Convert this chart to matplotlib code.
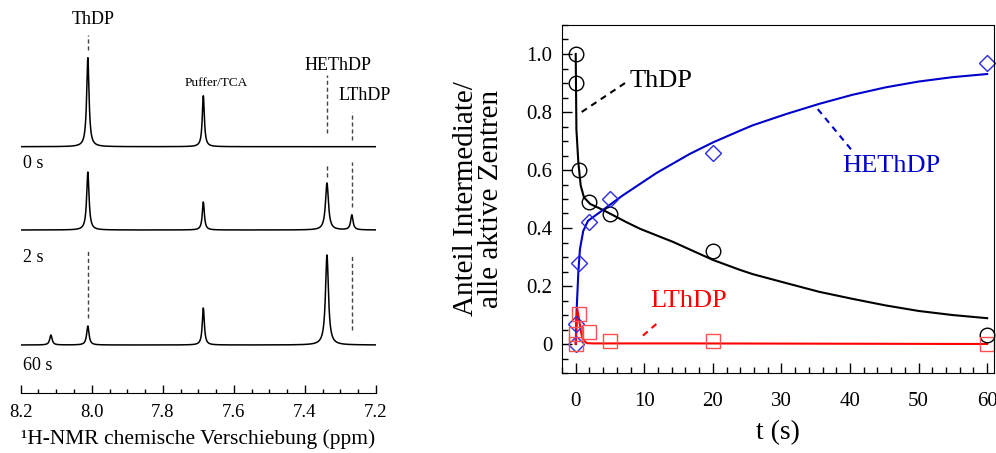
import numpy as np
import matplotlib.pyplot as plt
from matplotlib.ticker import MultipleLocator

plt.rcParams['font.family'] = ['Liberation Serif', 'DejaVu Serif']

# NMR spectra: peak tables (ppm, relative intensity)
peak_names = ['ThDP', 'Puffer/TCA', 'HEThDP', 'LThDP', 'Nebenpeak']
peak_ppm = [8.011, 7.686, 7.338, 7.268, 8.115]
peak_fwhm = [0.008, 0.007, 0.010, 0.008, 0.008]
height_0s = [89, 51, 0, 0, 0]
height_2s = [58, 28, 47, 15, 0]
height_60s = [19, 37, 90, 0, 10]
spec_labels = ['0 s', '2 s', '60 s']

# Kinetics: fraction of active sites
t_pts = [0, 0.1, 0.5, 2, 5, 20, 60]
thdp_pts = [1.0, 0.90, 0.60, 0.49, 0.45, 0.32, 0.03]
hethdp_pts = [0.0, 0.07, 0.28, 0.42, 0.50, 0.66, 0.97]
lthdp_pts = [0.0, 0.035, 0.105, 0.04, 0.01, 0.01, 0.0]

# fitted curves
t_thdp_fit = [0, 0.1, 0.38, 0.73, 1.2, 2.1, 4.0, 7.4, 9.4, 14.2, 20, 23.9, 25.8,
              30.7, 35.5, 40.3, 45.2, 50, 54.9, 60]
thdp_fit = [1.0, 0.74, 0.627, 0.546, 0.506, 0.483, 0.462, 0.42, 0.397, 0.352,
            0.29, 0.256, 0.241, 0.210, 0.180, 0.156, 0.133, 0.114, 0.100, 0.089]
t_he_fit = [0, 0.14, 0.38, 0.62, 1.1, 1.8, 3.5, 5.5, 6.9, 11.8, 16.6, 20, 23.9,
            25.8, 30.7, 35.5, 40.3, 45.2, 50, 54.9, 60]
he_fit = [0.0, 0.12, 0.247, 0.328, 0.39, 0.425, 0.454, 0.489, 0.513, 0.59, 0.655,
          0.695, 0.735, 0.754, 0.793, 0.828, 0.859, 0.885, 0.905, 0.92, 0.931]
t_l_fit = [0, 0.23, 0.48, 0.73, 1.0, 1.6, 2.6, 17, 60]
l_fit = [0.0, 0.12, 0.086, 0.046, 0.017, 0.003, 0.002, 0.002, 0.0]

serif = ['Liberation Serif', 'DejaVu Serif']

fig = plt.figure(figsize=(9.96, 4.53), dpi=100)

# ---- left: stacked spectra ----
ax1 = fig.add_axes([20.7 / 996, 60 / 453, 355.3 / 996, 393 / 453])
ax1.set_xlim(8.2, 7.2)
ax1.set_ylim(0, 393)
baselines = [246.3, 163, 48]
label_y = [230, 136, 27]
ppm = np.linspace(8.2, 7.2, 3000)
for heights, base, lab, ly in zip([height_0s, height_2s, height_60s], baselines, spec_labels, label_y):
    y = np.full_like(ppm, base)
    for x0, w, h in zip(peak_ppm, peak_fwhm, heights):
        y += h / (1 + ((ppm - x0) / (w / 2)) ** 2)
    ax1.plot(ppm, y, color='black', lw=1.1)
    ax1.text(8.194, ly, lab, fontsize=13, ha='left', va='center')

dash_kw = dict(color='#444444', lw=1.0, ls=(0, (3, 2)))
x_th, x_pu, x_he, x_l = peak_ppm[0], peak_ppm[1], peak_ppm[2], peak_ppm[3]
ax1.plot([x_th, x_th], [343, 358], **dash_kw)
ax1.plot([x_he, x_he], [260, 318], **dash_kw)
ax1.plot([x_he, x_he], [216, 230], **dash_kw)
ax1.plot([x_l, x_l], [253, 281], **dash_kw)
ax1.plot([x_l, x_l], [186, 231], **dash_kw)
ax1.plot([x_th, x_th], [75, 143], **dash_kw)
ax1.plot([x_l, x_l], [63, 138], **dash_kw)
ax1.text(7.996, 373, 'ThDP', fontsize=13, ha='center', va='center')
ax1.text(7.649, 310, 'Puffer/TCA', fontsize=9.5, ha='center', va='center')
ax1.text(7.306, 328, 'HEThDP', fontsize=13, ha='center', va='center')
ax1.text(7.233, 297, 'LThDP', fontsize=13, ha='center', va='center')

for s in ['top', 'left', 'right']:
    ax1.spines[s].set_visible(False)
ax1.set_yticks([])
ax1.xaxis.set_major_locator(MultipleLocator(0.2))
ax1.xaxis.set_minor_locator(MultipleLocator(0.05))
ax1.tick_params(axis='x', which='major', direction='in', length=6, width=1, labelsize=13.5, pad=8)
ax1.tick_params(axis='x', which='minor', direction='in', length=3, width=1)
ax1.set_xticklabels([f'{v:.1f}' for v in ax1.get_xticks()], fontfamily=serif)
ax1.set_xlabel('¹H-NMR chemische Verschiebung (ppm)', fontsize=15.5, labelpad=6)

# ---- right: kinetics ----
ax2 = fig.add_axes([562 / 996, 80 / 453, 432 / 996, 348 / 453])
ax2.set_xlim(-2, 61)
ax2.set_ylim(-0.1, 1.1)

ax2.plot(t_thdp_fit, thdp_fit, color='black', lw=1.5)
ax2.plot(t_he_fit, he_fit, color='#0000cc', lw=1.5)
ax2.plot(t_l_fit, l_fit, color='#ff0000', lw=1.5)

ax2.plot(t_pts, thdp_pts, ls='none', marker='o', ms=10.5, mfc='none', mec='black', mew=1.0, clip_on=False)
ax2.plot(t_pts, hethdp_pts, ls='none', marker='D', ms=8.5, mfc='none', mec='#2a2ae0', mew=1.0, clip_on=False)
ax2.plot(t_pts, lthdp_pts, ls='none', marker='s', ms=10.5, mfc='none', mec='#ff5050', mew=1.0, clip_on=False)

ax2.plot([0.87, 7.2], [0.80, 0.90], color='black', lw=1.5, ls=(0, (3, 2.5)))
ax2.text(7.8, 0.908, 'ThDP', fontsize=19, color='black', ha='left', va='center')
ax2.plot([35.3, 40.3], [0.81, 0.667], color='#0000cc', lw=1.5, ls=(0, (3, 2.5)))
ax2.text(38.9, 0.615, 'HEThDP', fontsize=19, color='#0000cc', ha='left', va='center')
ax2.plot([9.8, 12.3], [0.029, 0.08], color='#ff0000', lw=1.5, ls=(0, (3, 2.5)))
ax2.text(10.8, 0.149, 'LThDP', fontsize=19, color='#ff0000', ha='left', va='center')

ax2.xaxis.set_major_locator(MultipleLocator(10))
ax2.xaxis.set_minor_locator(MultipleLocator(2))
ax2.yaxis.set_major_locator(MultipleLocator(0.2))
ax2.yaxis.set_minor_locator(MultipleLocator(0.05))
ax2.tick_params(which='major', direction='in', length=7, width=1, labelsize=15)
ax2.tick_params(which='minor', direction='in', length=4, width=1)
ax2.tick_params(axis='x', which='major', pad=14)
ax2.tick_params(axis='y', which='major', pad=7)
ax2.set_xticklabels([f'{v:.0f}' for v in ax2.get_xticks()], fontfamily=serif)
ax2.set_yticklabels(['0' if abs(v) < 1e-9 else f'{v:.1f}' for v in ax2.get_yticks()], fontfamily=serif)
ax2.set_xlabel('t (s)', fontsize=20, labelpad=6)
ax2.set_ylabel('Anteil Intermediate/\nalle aktive Zentren', fontsize=21, labelpad=16, linespacing=0.95)

fig.savefig('out.png', dpi=100)
